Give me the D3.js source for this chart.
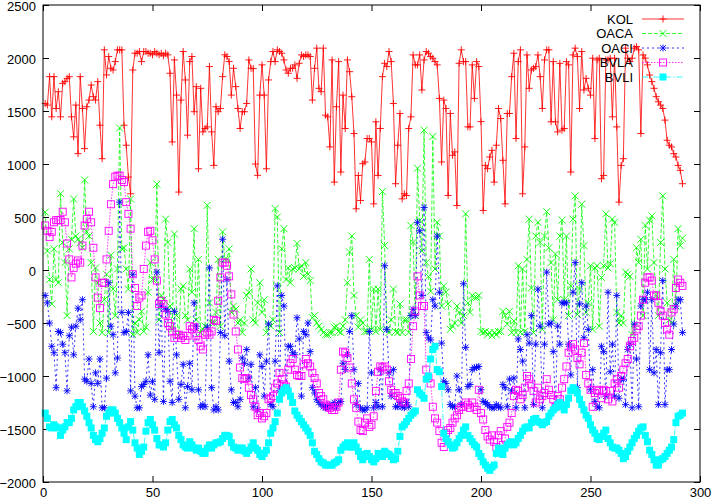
<!DOCTYPE html>
<html><head><meta charset="utf-8">
<script src="https://cdn.jsdelivr.net/npm/d3@7"></script>
<style>body{margin:0;background:#fff}svg{display:block}text{font-family:"Liberation Sans",Arial,sans-serif;font-size:13px;fill:#000}</style>
</head><body><svg id="c" width="714" height="504"></svg>
<script>
const seriesNames=["KOL","OACA","OACI","BVLA","BVLI"];
const xTicks=[0,50,100,150,200,250,300];
const yTicks=[-2000,-1500,-1000,-500,0,500,1000,1500,2000,2500];
const KOL=[1571,1556,1824,1445,1824,1524,1682,1445,1761,1777,
1808,1824,1445,1256,1556,1098,1824,1524,1145,1540,
1603,1745,1635,1603,1777,1366,1050,2077,1840,2014,
1903,1887,1966,2077,2077,2077,1366,1177,877,719,
1887,2045,2045,2061,1966,2061,2061,2045,2045,2030,
2061,2045,2030,2045,2020,2045,2030,1856,1208,1982,
1650,735,1603,2061,1793,1272,1966,2014,1493,1730,
955,1714,1303,1335,1350,1919,1303,987,1540,1493,
1524,1824,2030,2014,1966,1650,1903,1730,1524,1335,
1493,1493,1571,1982,1903,1900,1000,893,1650,1935,
1650,955,1793,1966,2061,1966,2077,2061,2045,1982,
1887,1856,1903,1903,1935,1808,1950,2029,2014,2029,
2029,2014,1603,1903,2093,1714,1682,2093,1461,1445,
1161,1982,829,1540,1966,924,1650,1335,1982,1871,
1635,1287,577,892,656,1003,1019,1240,1240,1208,
624,1398,892,1335,1824,1950,1919,2061,1966,1571,
814,1177,1477,671,719,703,1335,1445,2029,1935,
1935,2029,1698,1982,2061,2045,2014,1998,1966,1935,
1619,1019,1603,1524,703,1477,1082,1114,608,1950,
2077,1966,1966,1350,1350,1935,1619,1966,1919,1400,
561,987,956,1066,1129,829,1177,1524,1429,1035,
624,1477,1477,1824,2045,1240,1966,2077,719,1161,
2029,1714,1887,1903,1919,2029,1824,1524,1982,2077,
2077,1398,1966,1398,1303,1950,1319,1335,1966,1935,
924,2029,2093,2014,1524,2061,1698,1808,1714,1650,
1998,1240,1982,1998,861,892,1982,1982,1998,1445,
1998,1350,640,987,1050,2093,1998,1966,1998,2093,
2108,2077,1287,2029,1998,1935,1840,1777,1714,1635,
1587,1556,1524,1414,1224,1177,1161,1098,1066,987,
940,814];
const OACA=[545,180,-90,-320,200,-90,-120,720,260,70,
-430,200,290,670,320,290,260,210,850,360,
320,70,-580,20,-120,-500,-590,-280,-40,-590,
140,-180,-430,10,1340,200,210,10,-180,670,
-610,-500,-590,-470,-390,-580,-540,-210,70,-90,
-90,810,-470,-240,-280,480,260,-340,-560,340,
-430,-620,-180,-150,-430,-470,10,-210,390,-470,
100,-590,-560,-530,610,-310,-500,-500,-400,100,
-530,360,100,100,200,-400,-340,-370,-500,-470,
-590,-500,-240,-210,10,-470,-500,-310,-120,-400,
-280,-590,-510,-530,-470,580,500,-590,200,390,
-90,20,-120,10,20,250,10,40,-60,70,
-40,-100,-450,-430,-500,-530,-560,-590,-610,-610,
-590,-590,-540,-530,-580,-590,-530,-470,-120,170,
320,-240,-430,-540,-470,-500,-580,-580,100,-560,
-180,-580,-180,-560,740,230,-560,-590,-470,-180,
-580,-590,-320,-590,-470,-470,-590,420,260,-430,
960,470,180,1320,70,-60,-200,1260,10,450,
320,-340,-150,-210,-320,-560,-530,-500,-340,-400,
-500,-430,530,-310,-400,-240,-260,-260,-240,-580,
-590,-580,-610,-590,-620,-590,-610,-580,-580,-390,
-430,-510,-390,-590,-480,-590,40,-590,10,-580,
100,480,-170,-590,320,450,260,-560,320,550,
210,70,-470,150,-280,320,470,-280,320,-430,
-150,480,700,-420,-180,620,230,-400,-310,40,
-560,20,40,-530,-70,40,530,20,60,480,
450,-400,-500,-430,-500,-20,-40,-60,-610,-530,
210,70,290,-430,420,10,470,510,70,-240,
-430,260,700,10,-310,-470,-500,100,-340,390,
230,300];
const OACI=[-240,-310,-500,-720,-780,-1110,-580,-590,-700,-780,
-1140,-620,-540,-800,-530,-360,-470,-280,-1030,-1050,
-840,-1070,-1290,-970,-1070,-840,-1300,-1300,-1020,-120,
-530,-610,-970,-830,640,-400,-590,-580,-400,-1140,
-40,-1190,-1300,-1300,-1100,-1080,-1050,-800,-1180,-1050,
-1220,-20,-780,-340,-1240,-370,-390,-1050,-1250,-390,
-800,-1220,-1080,-890,-1300,-1100,-880,-1130,-310,-530,
-1130,-1290,-1270,-1290,-540,20,-1110,-1320,-1290,-1320,
-590,290,-620,-90,-860,-1130,-1250,-1250,-1290,-1220,
-830,-880,-750,-1020,-890,-1290,-1110,-1320,-800,-910,
-1190,-860,-510,-1270,-1290,-860,-150,-1140,-240,-340,
-1110,-720,-720,-780,-800,-450,-650,-1190,-580,-610,
-500,-770,-1110,-1160,-1220,-1250,-1270,-1290,-1300,-1290,
-1270,-1290,-1250,-1290,-1250,-1240,-880,-940,-800,-580,
-430,-940,-1270,-1070,-1300,-1320,-1320,-1300,-580,-970,
-1300,-1250,-1290,-940,-1290,40,-560,-970,-1190,-940,
-1290,-1290,-1250,-1290,-1300,-1250,-1290,-430,-370,-430,
450,370,-240,590,-590,-640,-660,-280,-340,320,
-210,-690,-1050,-1070,-1130,-1270,-1290,-1290,-1000,-1130,
-1270,-130,-730,-1100,-1080,-940,-920,-920,-910,-1130,
-1240,-1250,-1270,-1290,-1300,-1300,-1270,-1290,-1300,-1080,
-1110,-1290,-1030,-1140,-1020,-1300,-650,-750,-860,-1300,
-610,-690,-430,-1270,-700,-180,-530,-1300,-700,-20,
-510,-500,-770,-1290,-530,-700,-310,-310,-310,-700,
-990,-210,70,-1110,-320,-120,-640,-340,-560,-1130,
-940,-1240,-1290,-1300,-720,-770,-1190,-210,-960,-700,
-1190,-240,-1210,-1030,-1030,-1270,-750,-700,-1300,-510,
-840,-1290,-340,-280,-280,-210,-940,-280,-970,-750,
-1270,-780,-100,-1270,-940,-940,-750,-510,-340,-280,
-280,-590];
const BVLA=[420,370,310,360,450,470,470,470,550,450,
250,100,-70,20,60,90,70,230,420,480,
550,450,210,-70,-260,-360,-120,-120,100,370,
620,810,880,890,890,850,830,640,530,390,
-40,-170,-340,-260,-240,10,230,360,370,280,
100,-100,-320,-290,-320,-420,-500,-530,-580,-640,
-610,-610,-640,-620,-660,-620,-530,-560,-540,-620,
-660,-720,-750,-610,-590,-610,-580,-470,-480,-290,
-70,70,70,40,-60,-230,-420,-580,-750,-920,
-1020,-1030,-1020,-1110,-1180,-1220,-1290,-1370,-1350,-1400,
-1380,-1350,-1220,-1210,-1190,-1110,-1070,-970,-1030,-1080,
-1100,-940,-880,-840,-940,-990,-1000,-1000,-890,-840,
-880,-910,-970,-1020,-1070,-1160,-1190,-1220,-1270,-1290,
-1300,-1320,-1320,-1290,-1250,-940,-770,-780,-830,-920,
-1070,-1220,-1300,-1430,-1510,-1520,-1440,-1400,-1480,-1460,
-1380,-1140,-960,-910,-920,-910,-940,-1050,-1130,-1160,
-1160,-1190,-1210,-1240,-1250,-1140,-1070,-840,-530,-390,
-60,-240,-340,-340,-940,-1020,-1070,-1290,-1400,-1440,
-1520,-1630,-1670,-1540,-1510,-1490,-1440,-1400,-1370,-1320,
-1290,-1290,-1250,-1270,-1300,-1250,-1290,-1320,-1130,-1350,
-1410,-1510,-1570,-1600,-1560,-1620,-1670,-1560,-1520,-1650,
-1590,-1480,-1440,-1350,-1190,-1130,-1140,-1220,-1180,-1110,
-1000,-1030,-1080,-1140,-1250,-1110,-1220,-1190,-1160,-1030,
-1130,-1180,-1220,-1290,-1190,-1220,-1110,-1030,-910,-780,
-730,-700,-750,-830,-890,-780,-690,-990,-1070,-1130,
-1290,-1160,-1130,-1140,-1210,-1130,-1140,-1220,-1140,-1240,
-1070,-1030,-1110,-1000,-940,-880,-840,-720,-670,-640,
-560,-530,-430,-280,-120,-70,-70,-100,-240,-240,
-310,-390,-430,-500,-560,-610,-400,-370,-170,-90,
-120,-150];
const BVLI=[-1350,-1400,-1480,-1490,-1460,-1480,-1490,-1560,-1510,-1480,
-1440,-1440,-1400,-1320,-1290,-1250,-1250,-1290,-1330,-1380,
-1440,-1490,-1560,-1600,-1620,-1590,-1540,-1490,-1380,-1350,
-1320,-1320,-1350,-1400,-1440,-1490,-1540,-1600,-1480,-1430,
-1510,-1630,-1680,-1740,-1710,-1670,-1520,-1440,-1410,-1460,
-1510,-1590,-1650,-1650,-1670,-1630,-1510,-1430,-1410,-1460,
-1490,-1560,-1600,-1650,-1670,-1680,-1620,-1650,-1680,-1700,
-1680,-1710,-1730,-1730,-1680,-1650,-1680,-1650,-1630,-1630,
-1620,-1590,-1560,-1560,-1570,-1630,-1670,-1680,-1700,-1680,
-1680,-1710,-1730,-1700,-1670,-1630,-1680,-1700,-1740,-1760,
-1730,-1700,-1630,-1540,-1490,-1430,-1350,-1220,-1160,-1130,
-1110,-1140,-1190,-1250,-1330,-1370,-1400,-1430,-1460,-1490,
-1520,-1560,-1630,-1710,-1740,-1780,-1810,-1820,-1840,-1840,
-1840,-1840,-1820,-1810,-1790,-1700,-1670,-1650,-1630,-1670,
-1670,-1630,-1670,-1710,-1760,-1790,-1740,-1730,-1760,-1790,
-1810,-1780,-1730,-1740,-1760,-1710,-1730,-1740,-1760,-1790,
-1780,-1710,-1570,-1480,-1460,-1430,-1400,-1370,-1350,-1330,
-1130,-1160,-1180,-1210,-1030,-1000,-840,-750,-720,-940,
-960,-1100,-1540,-1590,-1620,-1650,-1680,-1670,-1630,-1590,
-1560,-1510,-1480,-1560,-1590,-1620,-1650,-1670,-1730,-1760,
-1810,-1840,-1870,-1890,-1860,-1840,-1730,-1680,-1710,-1740,
-1680,-1650,-1630,-1620,-1650,-1630,-1590,-1560,-1520,-1490,
-1480,-1490,-1440,-1410,-1400,-1430,-1440,-1460,-1440,-1430,
-1380,-1350,-1320,-1300,-1270,-1250,-1290,-1320,-1270,-1210,
-1140,-1110,-1130,-1160,-1220,-1270,-1320,-1370,-1400,-1460,
-1510,-1540,-1590,-1600,-1570,-1540,-1510,-1590,-1630,-1670,
-1680,-1680,-1700,-1730,-1780,-1760,-1710,-1670,-1630,-1590,
-1560,-1520,-1490,-1480,-1560,-1620,-1700,-1740,-1790,-1840,
-1840,-1790,-1780,-1760,-1730,-1700,-1670,-1600,-1440,-1380,
-1370,-1350];
const seriesValues=[KOL,OACA,OACI,BVLA,BVLI];
const colors=["#ff0000","#00ff00","#0000ff","#ff00ff","#00ffff"];
const dashes=[null,"4,2","2,3","1.5,1.5","6,2,1.5,2"];
const markers=["plus","cross","star","square","fsquare"];

const svg=d3.select("#c");
const L=43,R=700,T=5,B=482;
const x=d3.scaleLinear().domain([0,300]).range([L,R]);
const y=d3.scaleLinear().domain([-2000,2500]).range([B,T]);

const gx=svg.append("g").attr("transform",`translate(0,${B})`)
  .call(d3.axisBottom(x).tickValues(xTicks).tickSize(-6).tickPadding(6).tickFormat(d3.format("d")));
svg.append("g").attr("transform",`translate(0,${T})`)
  .call(d3.axisTop(x).tickValues(xTicks).tickSize(-6).tickFormat(""));
const gy=svg.append("g").attr("transform",`translate(${L},0)`)
  .call(d3.axisLeft(y).tickValues(yTicks).tickSize(-6).tickPadding(7).tickFormat(d3.format("d")));
svg.append("g").attr("transform",`translate(${R},0)`)
  .call(d3.axisRight(y).tickValues(yTicks).tickSize(-6).tickFormat(""));
svg.selectAll(".domain").remove();
svg.selectAll(".tick line").attr("stroke","#000").attr("stroke-width",1);
svg.selectAll(".tick text").style("font-family","'Liberation Sans',Arial,sans-serif").style("font-size","13px").attr("fill","#000");
gx.selectAll(".tick text").attr("dy","0.71em");
gy.selectAll(".tick text").attr("dy","0.4em");

function marker(g,type,cx,cy,color){
  const s=3.5;
  if(type==="plus"||type==="star"){
    g.append("path").attr("d",`M${cx-s},${cy}H${cx+s}M${cx},${cy-s}V${cy+s}`).attr("stroke",color).attr("stroke-width",0.9).attr("fill","none");
  }
  if(type==="cross"||type==="star"){
    const c=type==="star"?2.8:s;
    g.append("path").attr("d",`M${cx-c},${cy-c}L${cx+c},${cy+c}M${cx-c},${cy+c}L${cx+c},${cy-c}`).attr("stroke",color).attr("stroke-width",0.9).attr("fill","none");
  }
  if(type==="square"){
    g.append("rect").attr("x",cx-s).attr("y",cy-s).attr("width",2*s).attr("height",2*s).attr("stroke",color).attr("stroke-width",0.9).attr("fill","none");
  }
  if(type==="fsquare"){
    g.append("rect").attr("x",cx-s).attr("y",cy-s).attr("width",2*s).attr("height",2*s).attr("fill",color);
  }
}

const plot=svg.append("g");
seriesValues.forEach((vals,k)=>{
  const pts=vals.map((v,i)=>[i+1,v]);
  const g=plot.append("g");
  const line=d3.line().x(d=>x(d[0])).y(d=>y(d[1]));
  const p=g.append("path").datum(pts).attr("d",line).attr("fill","none")
    .attr("stroke",colors[k]).attr("stroke-width",0.8);
  if(dashes[k]) p.attr("stroke-dasharray",dashes[k]);
  pts.forEach(d=>marker(g,markers[k],x(d[0]),y(d[1]),colors[k]));
});

const lg=svg.append("g");
const ly=[19,33.5,48,62.5,77];
seriesNames.forEach((n,k)=>{
  lg.append("text").attr("x",633).attr("y",ly[k]).attr("dy","0.35em").attr("text-anchor","end").text(n);
  const l=lg.append("line").attr("x1",642).attr("x2",684).attr("y1",ly[k]).attr("y2",ly[k])
    .attr("stroke",colors[k]).attr("stroke-width",0.8);
  if(dashes[k]) l.attr("stroke-dasharray",dashes[k]);
  marker(lg,markers[k],663,ly[k],colors[k]);
});

svg.append("rect").attr("x",L).attr("y",T).attr("width",R-L).attr("height",B-T)
  .attr("fill","none").attr("stroke","#000").attr("stroke-width",1);
</script></body></html>
